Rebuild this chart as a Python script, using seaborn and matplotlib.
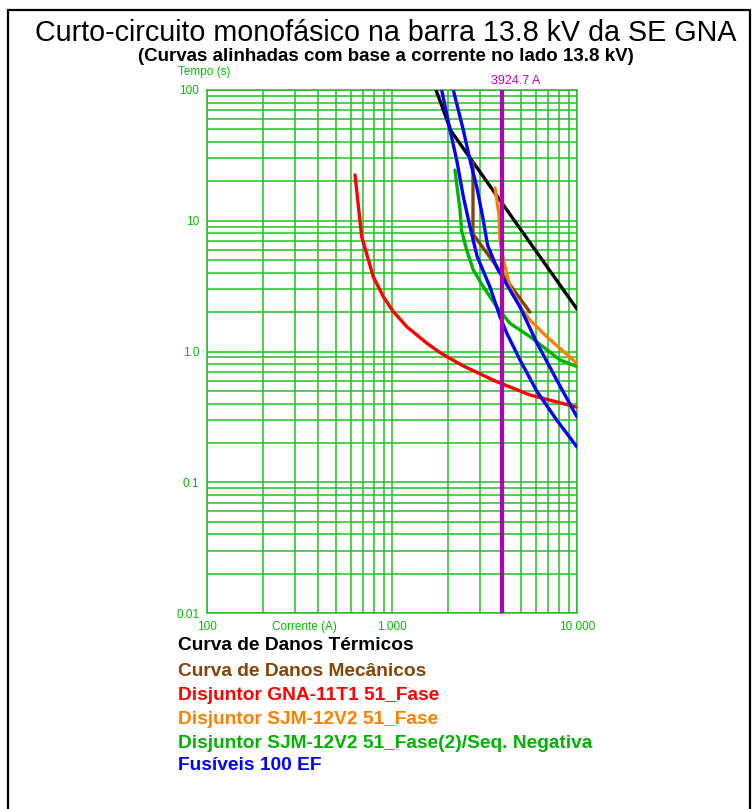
import numpy as np
import pandas as pd
import matplotlib
matplotlib.use("Agg")
import matplotlib.pyplot as plt
import seaborn as sns
from matplotlib import font_manager
from matplotlib.ticker import LogLocator, FixedLocator, FixedFormatter, NullFormatter

# ---------------- data ----------------
title = "Curto-circuito monofásico na barra 13.8 kV da SE GNA"
subtitle = "(Curvas alinhadas com base a corrente no lado 13.8 kV)"
x_label = "Corrente (A)"
y_label = "Tempo (s)"
x_ticks = [100, 1000, 10000]
x_tick_labels = ["100", "1.000", "10.000"]
y_ticks = [0.01, 0.1, 1.0, 10, 100]
y_tick_labels = ["0.01", "0.1", "1.0", "10", "100"]
fault_current = 3924.7
fault_label = "3924.7 A"

termico_i = [1729, 2084, 10000]
termico_t = [100, 48.6, 2.11]

mecanico_i = [2740, 2740, 5570]
mecanico_t = [28.1, 7.92, 2.0]

gna_i = [631, 686, 792, 898, 1016, 1201, 1540, 1817, 2429, 3681, 5570, 10000]
gna_t = [22.4, 7.55, 3.73, 2.62, 2.02, 1.55, 1.16, 0.98, 0.775, 0.588, 0.465, 0.375]

sjm_i = [3606, 3787, 3836, 3996, 4345, 4920, 5570, 6860, 10000]
sjm_t = [17.8, 11.1, 7.12, 5.01, 3.13, 2.20, 1.74, 1.30, 0.81]

sjm2_i = [2190, 2331, 2381, 2533, 2751, 3115, 3681, 4345, 5570, 8090, 10000]
sjm2_t = [24.4, 12.1, 8.35, 5.97, 4.20, 3.13, 2.20, 1.64, 1.30, 0.861, 0.768]

fus_min_i = [1856, 2058, 2238, 2429, 2640, 2881, 3386, 3836, 4169, 4920, 6057, 7770, 10000]
fus_min_t = [100, 49.4, 29.1, 15.3, 9.0, 5.37, 3.11, 1.84, 1.385, 0.861, 0.499, 0.299, 0.186]

fus_max_i = [2145, 2429, 2640, 2870, 3115, 3283, 3695, 4184, 4920, 6078, 7770, 10000]
fus_max_t = [100, 49.4, 29.1, 18.2, 10.1, 6.53, 4.35, 3.23, 2.19, 1.16, 0.605, 0.316]

legend_labels = [
    "Curva de Danos Térmicos",
    "Curva de Danos Mecânicos",
    "Disjuntor GNA-11T1 51_Fase",
    "Disjuntor SJM-12V2 51_Fase",
    "Disjuntor SJM-12V2 51_Fase(2)/Seq. Negativa",
    "Fusíveis 100 EF",
]

# ---------------- styles ----------------
BLACK = "#000000"
BROWN = "#864406"
RED = "#ff0000"
ORANGE = "#ff8000"
GREEN = "#00b400"
BLUE = "#0000ff"
PURPLE = "#b000b0"
GRID = "#22c022"
legend_colors = [BLACK, BROWN, RED, ORANGE, GREEN, BLUE]

curves = [
    ("termico", termico_i, termico_t, BLACK),
    ("mecanico", mecanico_i, mecanico_t, BROWN),
    ("gna", gna_i, gna_t, RED),
    ("sjm", sjm_i, sjm_t, ORANGE),
    ("sjm2", sjm2_i, sjm2_t, GREEN),
    ("fus_min", fus_min_i, fus_min_t, BLUE),
    ("fus_max", fus_max_i, fus_max_t, BLUE),
]

sns.set_theme(style="white")
names = {f.name for f in font_manager.fontManager.ttflist}
narrow = "Liberation Sans Narrow" if "Liberation Sans Narrow" in names else "Liberation Sans"
plt.rcParams["font.family"] = ["Liberation Sans", "DejaVu Sans"]

W, H = 752, 809
fig = plt.figure(figsize=(W / 100, H / 100), dpi=100)
fig.patch.set_facecolor("white")

ax = fig.add_axes([207 / W, 1 - 613 / H, (577 - 207) / W, (613 - 90) / H])
ax.set_facecolor("white")

for name, xi, yt, col in curves:
    df = pd.DataFrame({"corrente": xi, "tempo": yt})
    sns.lineplot(data=df, x="corrente", y="tempo", ax=ax, color=col,
                 estimator=None, sort=False, linewidth=2.4, legend=False,
                 zorder=4)

ax.axvline(fault_current, color=PURPLE, linewidth=3.0, zorder=5)

ax.set_xscale("log")
ax.set_yscale("log")
ax.set_xlim(100, 10000)
ax.set_ylim(0.01, 100)

ax.xaxis.set_major_locator(FixedLocator(x_ticks))
ax.xaxis.set_major_formatter(FixedFormatter(x_tick_labels))
ax.yaxis.set_major_locator(FixedLocator(y_ticks))
ax.yaxis.set_major_formatter(FixedFormatter(y_tick_labels))
ax.xaxis.set_minor_locator(LogLocator(base=10, subs=np.arange(2, 10)))
ax.yaxis.set_minor_locator(LogLocator(base=10, subs=np.arange(2, 10)))
ax.xaxis.set_minor_formatter(NullFormatter())
ax.yaxis.set_minor_formatter(NullFormatter())

ax.grid(True, which="both", color=GRID, linewidth=1.1, zorder=1)
ax.set_axisbelow(True)
ax.tick_params(which="major", length=3.5, width=1.0, color=GRID,
               labelcolor="#00c000", labelsize=8.5, pad=2)
ax.tick_params(which="minor", length=0)
for lab in ax.get_xticklabels() + ax.get_yticklabels():
    lab.set_fontfamily(narrow)
for sp in ax.spines.values():
    sp.set_color(GRID)
    sp.set_linewidth(1.1)
ax.set_xlabel("")
ax.set_ylabel("")

ax.annotate(fault_label, xy=(fault_current, 100), xytext=(-8, 2),
            textcoords="offset points", ha="left", va="bottom",
            color="#c000c0", fontsize=9, family=narrow)

fig.text(304 / W, 1 - 627 / H, x_label, ha="center", va="center",
         color="#00c000", fontsize=8.5, family=narrow)
fig.text(204 / W, 1 - 72 / H, y_label, ha="center", va="center",
         color="#00c000", fontsize=8.5, family=narrow)

fig.text(386 / W, 1 - 41 / H, title, ha="center", va="baseline",
         fontsize=20.6, color="black")
fig.text(386 / W, 1 - 61 / H, subtitle, ha="center", va="baseline",
         fontsize=13.5, fontweight="bold", color="black")

leg_y = [646, 671, 696, 720, 743, 765]
for lab, col, yy in zip(legend_labels, legend_colors, leg_y):
    fig.text(178 / W, 1 - yy / H, lab, ha="left", va="center",
             fontsize=13.8, fontweight="bold", color=col)

# outer frame (left, top, right)
fig.add_artist(plt.Line2D([8 / W, 8 / W], [0, 1 - 10 / H], color="black",
                          linewidth=1.6, transform=fig.transFigure))
fig.add_artist(plt.Line2D([8 / W, 750 / W], [1 - 10 / H, 1 - 10 / H],
                          color="black", linewidth=1.6, transform=fig.transFigure))
fig.add_artist(plt.Line2D([750 / W, 750 / W], [0, 1 - 10 / H], color="black",
                          linewidth=1.6, transform=fig.transFigure))

fig.savefig("out.png", dpi=100, facecolor="white")
